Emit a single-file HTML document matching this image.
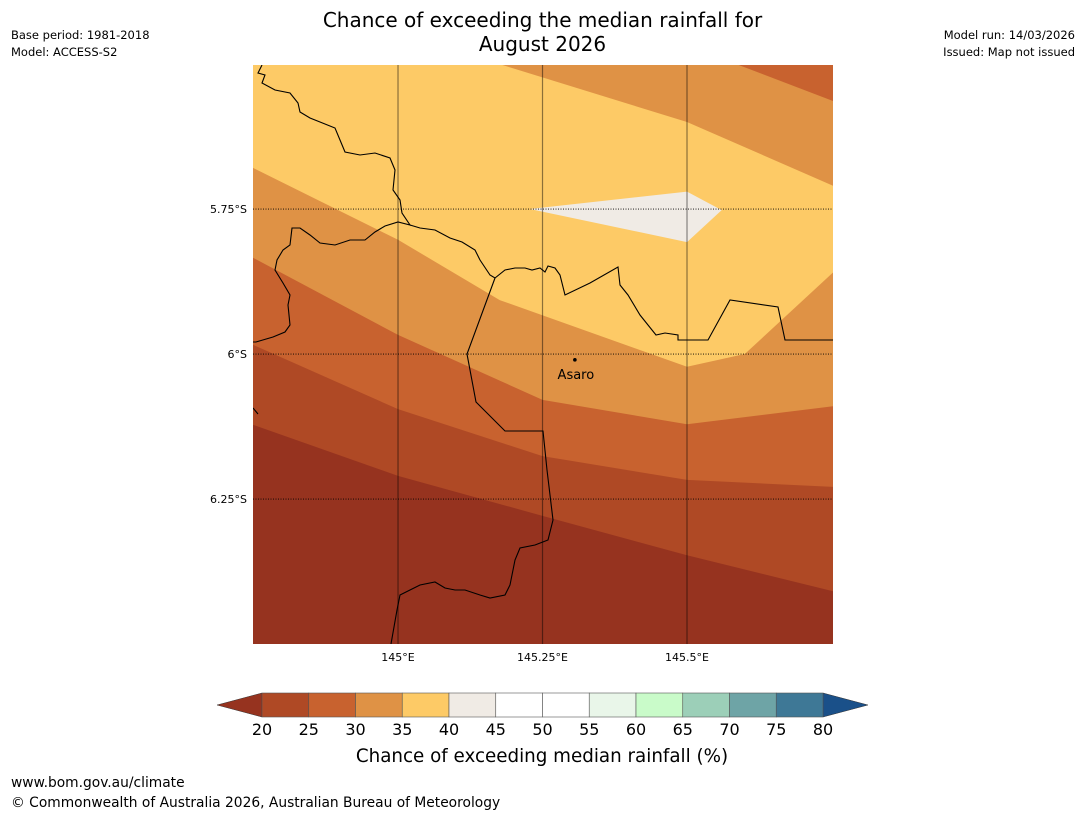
<!DOCTYPE html>
<html><head><meta charset="utf-8"><style>
body{margin:0;background:#fff;font-family:"Liberation Sans","DejaVu Sans",sans-serif;}
#wrap{position:relative;width:1085px;height:816px;overflow:hidden;background:#fff}
.t{position:absolute;white-space:nowrap;color:#000}
</style></head><body>
<div id="wrap">
<div class="t" style="left:0;width:1085px;top:8px;text-align:center;font-size:20px;line-height:24px;font-family:'DejaVu Sans',sans-serif">Chance of exceeding the median rainfall for<br>August 2026</div>
<div class="t" style="left:11px;top:27px;font-size:11.5px;line-height:17px;font-family:'DejaVu Sans',sans-serif">Base period: 1981-2018<br>Model: ACCESS-S2</div>
<div class="t" style="right:10px;top:27px;font-size:11.5px;line-height:17px;text-align:right;font-family:'DejaVu Sans',sans-serif">Model run: 14/03/2026<br>Issued: Map not issued</div>
<div class="t" style="left:11px;top:775px;font-size:13.8px;font-family:'DejaVu Sans',sans-serif">www.bom.gov.au/climate</div>
<div class="t" style="left:11px;top:795px;font-size:13.8px;font-family:'DejaVu Sans',sans-serif">© Commonwealth of Australia 2026, Australian Bureau of Meteorology</div>
<svg id="svg" width="1085" height="816" style="position:absolute;left:0;top:0"></svg>
</div>
<script>
// axis ranges
const lonTicks=[145,145.25,145.5];
const lonTickLabels=["145°E","145.25°E","145.5°E"];
const latTicks=[-5.75,-6,-6.25];
const latTickLabels=["5.75°S","6°S","6.25°S"];
// contour boundaries [lon,lat] (region below boundary gets band color)
const b3540=[[144.749,-5.679],[145.0,-5.803],[145.176,-5.907],[145.5,-6.022],[145.6,-6.0],[145.753,-5.859]];
const b3035=[[144.749,-5.834],[145.0,-5.967],[145.25,-6.079],[145.5,-6.121],[145.753,-6.09]];
const b2530=[[144.749,-5.984],[145.0,-6.095],[145.25,-6.176],[145.5,-6.217],[145.753,-6.229]];
const b2025=[[144.749,-6.122],[145.0,-6.21],[145.25,-6.279],[145.5,-6.347],[145.753,-6.409]];
const topOrange=[[145.175,-5.5],[145.5,-5.6],[145.753,-5.71]];
const topRed=[[145.585,-5.5],[145.753,-5.564]];
const whitePatch=[[145.228,-5.75],[145.5,-5.72],[145.56,-5.752],[145.5,-5.807]];
const bandColors=["#96331f","#af4925","#c8622f","#df9245","#fdca66","#f0ebe5"];
const cbLevels=[20,25,30,35,40,45,50,55,60,65,70,75,80];
const cbColors=["#af4925","#c8622f","#df9245","#fdca66","#f0ebe5","#ffffff","#ffffff","#e9f6e9","#c9fbc9","#9ccfb8","#6ea4a6","#3e7896"];
const cbLow="#96331f", cbHigh="#1a5089";
const coast1=[[262,65],[258,73],[265,75],[262,83],[275,90],[290,93],[298,103],[300,112],[310,118],[320,122],[335,128],[340,140],[345,152],[360,155],[375,153],[390,158],[395,170],[393,190],[400,200],[402,213],[410,225],[398,222],[385,226],[375,232],[365,240],[350,240],[335,245],[320,243],[310,235],[300,228],[292,228],[290,245],[283,250],[277,260],[275,270],[283,283],[290,295],[288,305],[290,325],[285,332],[273,337],[256,342],[253,342]];
const coast2=[[410,225],[420,228],[435,230],[450,238],[462,242],[475,250],[480,260],[490,275],[495,278],[505,270],[515,268],[525,268],[532,270],[540,268],[545,272],[548,266],[555,268],[560,275],[565,295],[590,283],[618,267],[620,285],[628,295],[640,315],[656,335],[665,333],[678,335],[678,340],[708,340],[730,300],[778,307],[785,340],[833,340]];
const border=[[495,278],[467,354],[476,402],[505,431],[543,431],[547,470],[553,520],[548,540],[535,545],[520,548],[515,560],[510,585],[505,595],[490,598],[480,595],[465,590],[455,590],[445,588],[435,582],[420,585],[410,590],[400,595],[397,610],[391,644]];
const place={name:"Asaro",lon:145.306,lat:-6.01};

const NS="http://www.w3.org/2000/svg";
const svg=document.getElementById('svg');
const X0=253,X1=833,Y0=65,Y1=644;
const lonMin=144.7491,lonMax=145.7526,latMax=-5.5017,latMin=-6.4999;
const xs=l=>X0+(l-lonMin)/(lonMax-lonMin)*(X1-X0);
const ys=l=>Y0+(latMax-l)/(latMax-latMin)*(Y1-Y0);
function mk(tag,attrs){const e=document.createElementNS(NS,tag);for(const k in attrs)e.setAttribute(k,attrs[k]);svg.appendChild(e);return e;}
const clip=document.createElementNS(NS,'clipPath');clip.setAttribute('id','mc');
const cr=document.createElementNS(NS,'rect');cr.setAttribute('x',X0);cr.setAttribute('y',Y0);cr.setAttribute('width',X1-X0);cr.setAttribute('height',Y1-Y0);clip.appendChild(cr);svg.appendChild(clip);
const g=mk('g',{'clip-path':'url(#mc)'});


function add(parent,tag,attrs){const e=document.createElementNS(NS,tag);for(const k in attrs)e.setAttribute(k,attrs[k]);parent.appendChild(e);return e;}
const bg=add(g,'rect',{x:X0,y:Y0,width:X1-X0,height:Y1-Y0,fill:bandColors[4]});


function below(pts,col,name){const p=pts.map(q=>xs(q[0])+','+ys(q[1]));const d='M'+xs(pts[0][0])+','+(Y1+5)+' L'+p.join(' L')+' L'+(X1+5)+','+ys(pts[pts.length-1][1])+' L'+(X1+5)+','+(Y1+5)+'Z';const e=add(g,'path',{d:d,fill:col});

}
function above(pts,col,name){const p=pts.map(q=>xs(q[0])+','+ys(q[1]));const d='M'+xs(pts[0][0])+','+(Y0-5)+' L'+p.join(' L')+' L'+(X1+5)+','+(Y0-5)+'Z';const e=add(g,'path',{d:d,fill:col});

}
above(topOrange,bandColors[3],'band-30-35-north');
above(topRed,bandColors[2],'band-25-30-north');
below(b3540,bandColors[3],'band-30-35');
below(b3035,bandColors[2],'band-25-30');
below(b2530,bandColors[1],'band-20-25');
below(b2025,bandColors[0],'band-below-20');
const wp=add(g,'polygon',{points:whitePatch.map(q=>xs(q[0])+','+ys(q[1])).join(' '),fill:bandColors[5]});


function pl(pts,name){const e=add(g,'polyline',{points:pts.map(q=>q.join(',')).join(' '),fill:'none',stroke:'#000','stroke-width':1.1});

}
pl(coast1,'coastline-west');pl(coast2,'coastline-east');pl(border,'province-border');
pl([[253,408],[258,414]],'coastline-fragment');
lonTicks.forEach((t,i)=>{const x=xs(t);const l=add(g,'line',{x1:x,x2:x,y1:Y0,y2:Y1,stroke:'#000','stroke-opacity':0.45,'stroke-width':1.2});


const tx=mk('text',{x:x,y:661,'font-size':11,'text-anchor':'middle','font-family':'DejaVu Sans, sans-serif'});tx.textContent=lonTickLabels[i];

});
latTicks.forEach((t,i)=>{const y=ys(t);const l=add(g,'line',{x1:X0,x2:X1,y1:y,y2:y,stroke:'#000','stroke-width':0.9,'stroke-dasharray':'1,1.5'});


const tx=mk('text',{x:247,y:y+4,'font-size':11,'text-anchor':'end','font-family':'DejaVu Sans, sans-serif'});tx.textContent=latTickLabels[i];

});
const dot=add(g,'circle',{cx:xs(place.lon),cy:ys(place.lat),r:1.8,fill:'#000'});


const pt=mk('text',{x:xs(place.lon)+1,y:ys(place.lat)+19,'font-size':13,'text-anchor':'middle','font-family':'DejaVu Sans, sans-serif'});pt.textContent=place.name;


// colorbar
const CB0=262,CB1=823,CBy=693,CBh=24;const bw=(CB1-CB0)/cbColors.length;
const lt=mk('polygon',{points:`217,${CBy+CBh/2} ${CB0},${CBy} ${CB0},${CBy+CBh}`,fill:cbLow,stroke:'#333','stroke-width':0.5});


const rt=mk('polygon',{points:`868,${CBy+CBh/2} ${CB1},${CBy} ${CB1},${CBy+CBh}`,fill:cbHigh,stroke:'#333','stroke-width':0.5});


cbColors.forEach((c,i)=>{const r=mk('rect',{x:CB0+i*bw,y:CBy,width:bw,height:CBh,fill:c,stroke:'#555','stroke-width':0.6});

});
cbLevels.forEach((v,i)=>{const tx=mk('text',{x:CB0+i*bw,y:735,'font-size':16,'text-anchor':'middle','font-family':'DejaVu Sans, sans-serif'});tx.textContent=v;

});
const ct=mk('text',{x:542,y:762,'font-size':18.3,'text-anchor':'middle','font-family':'DejaVu Sans, sans-serif'});ct.textContent='Chance of exceeding median rainfall (%)';


</script>
</body></html>
